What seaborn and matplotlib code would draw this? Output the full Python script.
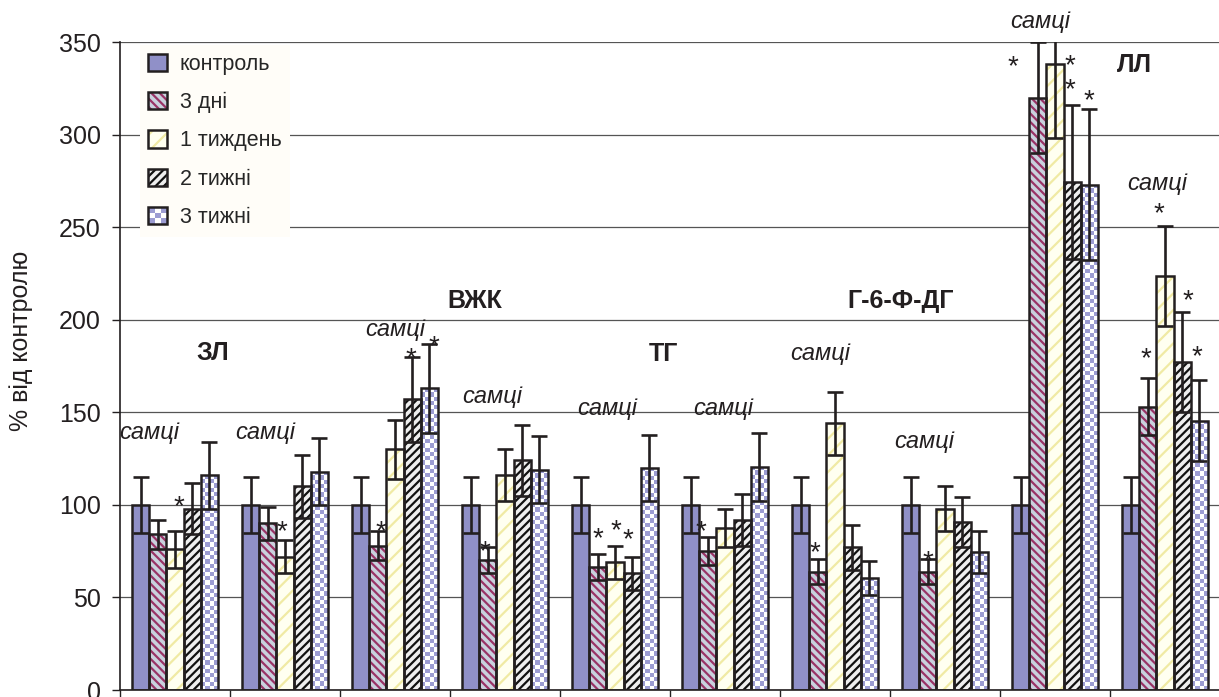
import numpy as np
import pandas as pd
import seaborn as sns
import matplotlib.pyplot as plt
from matplotlib.patches import Rectangle, Patch
from matplotlib.legend_handler import HandlerBase
from matplotlib.colors import ListedColormap

groups = ['ЗЛ 1', 'ЗЛ 2', 'ВЖК 1', 'ВЖК 2', 'ТГ 1', 'ТГ 2',
          'Г-6-Ф-ДГ 1', 'Г-6-Ф-ДГ 2', 'ЛЛ 1', 'ЛЛ 2']
series = ['контроль', '3 дні', '1 тиждень', '2 тижні', '3 тижні']

control = [100, 100, 100, 100, 100, 100, 100, 100, 100, 100]
control_err = [15, 15, 15, 15, 15, 15, 15, 15, 15, 15]
days3 = [84, 90, 78, 70, 66.5, 75, 64, 64, 320, 153]
days3_err = [8, 9, 8, 7, 7, 7.5, 7, 7, 30, 15.5]
week1 = [76, 72, 130, 116, 69, 87.5, 144, 98, 338, 223.5]
week1_err = [10, 9, 16, 14, 9, 10.5, 17, 12, 40, 27]
week2 = [98, 110, 157, 124, 63, 92, 77, 91, 274.5, 177]
week2_err = [14, 17, 23, 19, 9, 14, 12, 13.5, 41.5, 27]
week3 = [116, 118, 163, 119, 120, 120.5, 60.5, 74.5, 273, 145.5]
week3_err = [18, 18, 24, 18, 18, 18.5, 9, 11.5, 41, 22]

values = [control, days3, week1, week2, week3]
errors = [control_err, days3_err, week1_err, week2_err, week3_err]

# indicator names, placed between the two groups of each pair
indicators = ['ЗЛ', 'ВЖК', 'ТГ', 'Г-6-Ф-ДГ', 'ЛЛ']
indicator_pos = [(0.34, 182), (2.73, 210), (4.44, 181.5), (6.6, 210), (8.72, 337.6)]
samci_pos = [(-0.23, 139), (0.82, 139), (2.0, 194.5), (2.88, 158.3), (3.93, 152.3),
             (4.98, 152.3), (5.87, 181.5), (6.81, 134), (7.87, 361), (8.93, 273.4)]
# (group, offset in bar widths from group centre, baseline)
stars = [(0, 0.24, 95), (1, -0.18, 81.5),
         (2, -0.82, 81.5), (2, 0.94, 175), (2, 2.3, 181.5),
         (3, -1.18, 70.8),
         (4, -1.0, 77.8), (4, 0.06, 82), (4, 0.76, 77.3),
         (5, -1.41, 81.5), (6, -1.18, 70.3), (7, -1.0, 65.4),
         (8, -2.47, 332.8), (8, 0.88, 333.4), (8, 0.88, 320.4), (8, 2.0, 314.4),
         (9, -1.12, 175), (9, -0.35, 253.4), (9, 1.35, 206), (9, 1.88, 176.2)]

dark = '#231f20'
face_colors = ['#9090c8', '#c9d1dd', '#fffff0', '#eeeeee', '#ffffff']
hatch_colors = [None, '#993366', '#f0eaa4', '#111111', None]
hatches = [None, '\\\\\\\\', '//', '////', None]
checker_colors = ['#ffffff', '#9c9cd2']

sns.set_style('white')
plt.rcParams['font.family'] = ['Liberation Sans', 'DejaVu Sans']
plt.rcParams['hatch.linewidth'] = 1.6

df = pd.DataFrame({
    'group': np.tile(groups, len(series)),
    'series': np.repeat(series, len(groups)),
    'value': np.concatenate(values),
})

fig = plt.figure(figsize=(12.19, 6.97), dpi=100)
ax = fig.add_axes([120 / 1219, 7 / 697, 1100 / 1219, 648 / 697])

sns.barplot(data=df, x='group', y='value', hue='series', order=groups,
            hue_order=series, palette=face_colors, saturation=1, width=0.773,
            gap=0, errorbar=None, linewidth=0, legend=False, ax=ax)

bars = list(ax.containers)
for k, cont in enumerate(bars):
    for p in cont:
        if hatches[k]:
            p.set_hatch(hatches[k])
            p.set_edgecolor(hatch_colors[k])
            p.set_linewidth(0)
    xs = [p.get_x() + p.get_width() / 2 for p in cont]
    hs = [p.get_height() for p in cont]
    w = cont[0].get_width()
    if k == 4:
        # checkerboard fill for "3 тижні"
        for p in cont:
            h = p.get_height()
            ny = max(1, int(round(h * 1.851 / 4.25)))
            cells = np.indices((ny, 4)).sum(axis=0) % 2
            im = ax.imshow(cells, cmap=ListedColormap(checker_colors), aspect='auto',
                           interpolation='nearest', origin='lower',
                           extent=(p.get_x(), p.get_x() + w, 0, h), zorder=1.5)
            im.set_clip_path(p)
    ax.bar(xs, hs, width=w, fill=False, edgecolor=dark, linewidth=1.8, zorder=3)
    ax.errorbar(xs, hs, yerr=errors[k], fmt='none', ecolor=dark, elinewidth=1.9,
                capsize=5.5, capthick=1.9, zorder=4)

ax.set_xlim(-0.5, 9.5)
ax.set_ylim(0, 350)
ax.set_yticks(range(0, 351, 50))
ax.set_xticks(np.arange(-0.5, 10, 1))
ax.set_xticklabels([])
ax.set_xlabel('')
ax.set_ylabel('')
ax.set_axisbelow(True)
ax.yaxis.grid(True, color='#555555', linewidth=0.9)
ax.xaxis.grid(False)
for s in ['top', 'right']:
    ax.spines[s].set_visible(False)
for s in ['left', 'bottom']:
    ax.spines[s].set_color(dark)
    ax.spines[s].set_linewidth(1.2)
ax.tick_params(axis='y', length=6, width=1, color=dark, direction='out',
               labelsize=18, labelcolor=dark, pad=8, left=True)
ax.tick_params(axis='x', length=6, width=1, color=dark, direction='out', bottom=True)

bw = bars[0][0].get_width()
for name, (x, y) in zip(indicators, indicator_pos):
    ax.text(x, y, name, fontsize=18, fontweight='bold', ha='center', va='center', color=dark)
for x, y in samci_pos:
    ax.text(x, y, 'самці', fontsize=17, fontstyle='italic', ha='center', va='center',
            color=dark, clip_on=False)
for g, off, y in stars:
    ax.text(g + off * bw, y, '*', fontsize=20, ha='center', va='baseline', color=dark)

fig.text(21 / 1219, 0.511, '% від контролю', rotation=90, ha='center', va='center',
         fontsize=18, color=dark)


class CheckerHandler(HandlerBase):
    def create_artists(self, legend, orig_handle, xdescent, ydescent, width, height,
                       fontsize, trans):
        arts = []
        n = 3
        cw, ch = width / n, height / n
        for i in range(n):
            for j in range(n):
                arts.append(Rectangle((-xdescent + i * cw, -ydescent + j * ch), cw, ch,
                                      facecolor=checker_colors[(i + j + 1) % 2],
                                      edgecolor='none', transform=trans))
        arts.append(Rectangle((-xdescent, -ydescent), width, height, fill=False,
                              edgecolor=dark, linewidth=1.8, transform=trans))
        return arts


handles = [Patch(facecolor=face_colors[0], edgecolor=dark, linewidth=1.8)]
for k in range(1, 4):
    handles.append((Patch(facecolor=face_colors[k], edgecolor=hatch_colors[k],
                          hatch=hatches[k], linewidth=0),
                    Patch(fill=False, edgecolor=dark, linewidth=1.8)))
checker_handle = Patch(facecolor='white')
handles.append(checker_handle)

ax.legend(handles, series, handler_map={checker_handle: CheckerHandler()},
          loc='upper left', bbox_to_anchor=(0.018, 0.995), borderaxespad=0,
          fontsize=15.5, frameon=True, facecolor='#fffdf8', edgecolor='none',
          fancybox=False, framealpha=1, borderpad=0.4, labelspacing=0.8,
          handlelength=0.85, handleheight=0.85, handletextpad=0.6)

fig.savefig('out.png', dpi=100)
